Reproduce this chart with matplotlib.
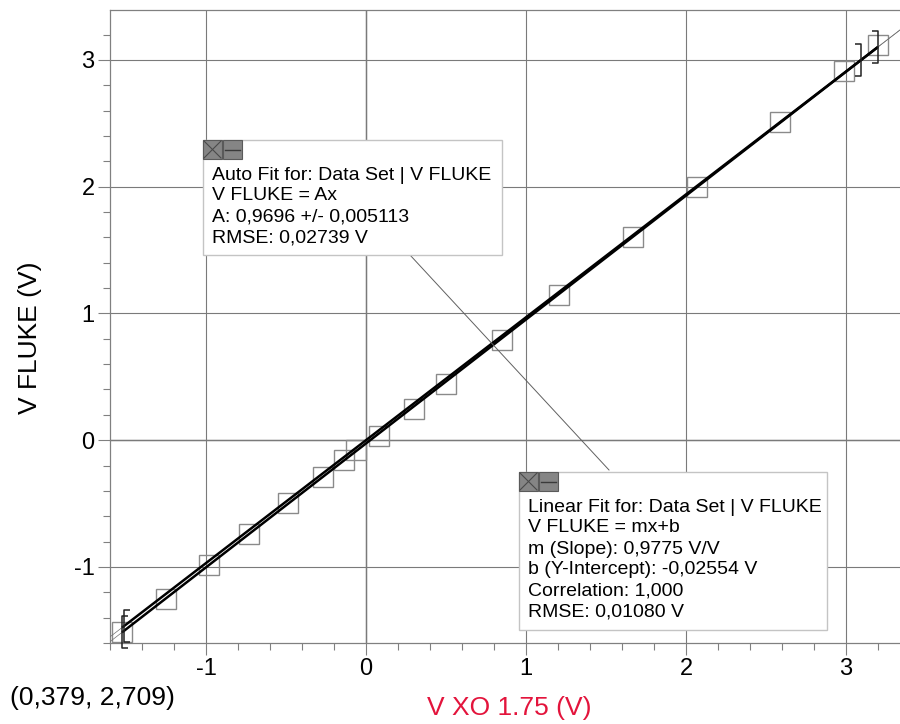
import matplotlib
matplotlib.use('Agg')
import matplotlib.pyplot as plt
from matplotlib.path import Path
from matplotlib.patches import Rectangle
from matplotlib.lines import Line2D
from matplotlib.ticker import MultipleLocator

plt.rcParams['font.family'] = ['Liberation Sans', 'DejaVu Sans']
plt.rcParams['axes.unicode_minus'] = False

# measured points, V XO 1.75 vs V FLUKE
v_xo = [-1.525, -1.248, -0.981, -0.733, -0.489, -0.271, -0.139, -0.061, 0.079,
        0.297, 0.500, 0.849, 1.208, 1.668, 2.067, 2.585, 2.990, 3.200]
v_fluke = [-1.515, -1.252, -0.981, -0.737, -0.495, -0.292, -0.154, -0.079, 0.030,
           0.243, 0.443, 0.788, 1.147, 1.605, 2.000, 2.507, 2.910, 3.120]

# fit results (Logger Pro)
auto_a = 0.9696
lin_m = 0.9775
lin_b = -0.02554
fit_lo = -1.525
fit_hi = 3.2
# range brackets: auto fit ends, linear fit ends
auto_range = [-1.512, 3.094]
lin_range = [-1.525, 3.2]

auto_lines = ['Auto Fit for: Data Set | V FLUKE', 'V FLUKE = Ax',
              'A: 0,9696 +/- 0,005113', 'RMSE: 0,02739 V']
lin_lines = ['Linear Fit for: Data Set | V FLUKE', 'V FLUKE = mx+b',
             'm (Slope): 0,9775 V/V', 'b (Y-Intercept): -0,02554 V',
             'Correlation: 1,000', 'RMSE: 0,01080 V']
cursor_text = '(0,379, 2,709)'

W, H = 900, 724


def fp(x, y):
    # pixel position -> figure fraction
    return x / W, 1 - y / H


fig = plt.figure(figsize=(9, 7.24), dpi=100)
ax = fig.add_axes([110 / W, 1 - 643 / H, 790 / W, 633 / H])
ax.set_xlim(-1.6, 3.3375)
ax.set_ylim(-1.6, 3.394)

ax.xaxis.set_major_locator(MultipleLocator(1))
ax.xaxis.set_minor_locator(MultipleLocator(0.2))
ax.yaxis.set_major_locator(MultipleLocator(1))
ax.yaxis.set_minor_locator(MultipleLocator(0.2))
ax.grid(which='major', color='#7a7a7a', lw=0.8, zorder=0)
ax.axhline(0, color='#1a1a1a', lw=0.9, zorder=0.5)
ax.axvline(0, color='#1a1a1a', lw=0.9, zorder=0.5)
ax.set_axisbelow(True)

ax.spines['right'].set_visible(False)
for s in ['top', 'left', 'bottom']:
    ax.spines[s].set_color('#808080')
    ax.spines[s].set_linewidth(0.9)
ax.tick_params(which='major', direction='out', length=8.6, width=0.8,
               color='#808080', labelsize=17, pad=2.5)
ax.tick_params(which='minor', direction='out', length=5, width=0.8,
               color='#808080')

# data squares
ax.plot(v_xo, v_fluke, 's', ms=13.7, mfc='none', mec='#8a8a8a', mew=1.0,
        zorder=2)

# fit lines: thin across the whole axis, thick over the fit range
x_full = [-1.6, 3.3375]
x_fit = [fit_lo, fit_hi]
ax.plot(x_full, [auto_a * x for x in x_full], color='#707070', lw=0.5, zorder=3)
ax.plot(x_full, [lin_m * x + lin_b for x in x_full], color='#707070', lw=0.5,
        zorder=3)
ax.plot(x_fit, [auto_a * x for x in x_fit], color='black', lw=1.8, zorder=4,
        solid_capstyle='butt')
ax.plot(x_fit, [lin_m * x + lin_b for x in x_fit], color='black', lw=1.8,
        zorder=4, solid_capstyle='butt')

# range brackets
left_br = Path([(0.37, -1), (0, -1), (0, 1), (0.37, 1)],
               [Path.MOVETO, Path.LINETO, Path.LINETO, Path.LINETO])
right_br = Path([(-0.37, -1), (0, -1), (0, 1), (-0.37, 1)],
                [Path.MOVETO, Path.LINETO, Path.LINETO, Path.LINETO])
for rng, fn in [(auto_range, lambda x: auto_a * x),
                (lin_range, lambda x: lin_m * x + lin_b)]:
    ax.plot([rng[0]], [fn(rng[0])], marker=left_br, ms=23, mfc='none',
            mec='#222222', mew=1.1, clip_on=False, zorder=5)
    ax.plot([rng[1]], [fn(rng[1])], marker=right_br, ms=23, mfc='none',
            mec='#222222', mew=1.1, clip_on=False, zorder=5)

# connector line between the two fit boxes
fig.add_artist(Line2D([410 / W, 609 / W], [1 - 255 / H, 1 - 470 / H],
                      color='#606060', lw=0.7, zorder=1.5))


def fit_box(x0, y0, x1, y1, lines):
    fig.add_artist(Rectangle(fp(x0, y1), (x1 - x0) / W, (y1 - y0) / H,
                             transform=fig.transFigure, fc='white',
                             ec='#c4c4c4', lw=1.0, zorder=6))
    # close / minimise icons
    for k in range(2):
        ix = x0 + k * 20
        fig.add_artist(Rectangle(fp(ix, y0 + 19), 19 / W, 19 / H,
                                 transform=fig.transFigure, fc='#858585',
                                 ec='#5a5a5a', lw=0.8, zorder=7))
    fig.add_artist(Line2D([(x0 + 1) / W, (x0 + 18) / W],
                          [1 - (y0 + 1) / H, 1 - (y0 + 18) / H],
                          color='#4a4a4a', lw=0.8, zorder=8))
    fig.add_artist(Line2D([(x0 + 1) / W, (x0 + 18) / W],
                          [1 - (y0 + 18) / H, 1 - (y0 + 1) / H],
                          color='#4a4a4a', lw=0.8, zorder=8))
    fig.add_artist(Line2D([(x0 + 22) / W, (x0 + 37) / W],
                          [1 - (y0 + 10) / H, 1 - (y0 + 10) / H],
                          color='#3a3a3a', lw=1.0, zorder=8))
    for i, t in enumerate(lines):
        fig.text(*fp(x0 + 9, y0 + 35 + 21 * i), t, fontsize=14, ha='left',
                 va='center', color='black', zorder=9)


fit_box(203, 140, 502, 255, auto_lines)
fit_box(519, 472, 827, 630, lin_lines)

# axis titles and cursor readout
fig.text(*fp(30, 338), 'V FLUKE (V)', rotation=90, fontsize=19, ha='center',
         va='center')
fig.text(*fp(509, 708), 'V XO 1.75 (V)', fontsize=19, ha='center', va='center',
         color='#e3143c')
fig.text(*fp(10, 698), cursor_text, fontsize=19, ha='left', va='center')

fig.savefig('out.png', dpi=100)
